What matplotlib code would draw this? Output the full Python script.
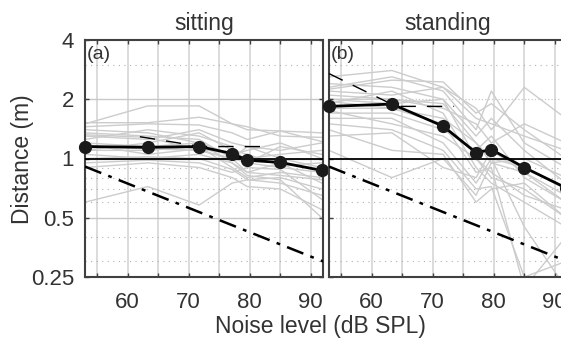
import matplotlib
matplotlib.use("Agg")
import matplotlib.pyplot as plt
import numpy as np
from matplotlib.ticker import FixedLocator, NullFormatter

plt.rcParams['font.family'] = ['Liberation Sans', 'DejaVu Sans']

# noise levels (dB SPL)
levels = [53, 63.3, 71.7, 77.1, 79.6, 85, 91.8]

# individual subjects, sitting
sitting_subjects = [
    [1.50, 1.85, 1.85, 1.50, 1.40, 1.38, 1.35],
    [1.52, 1.52, 1.62, 1.50, 1.45, 1.30, 1.28],
    [1.45, 1.50, 1.48, 1.35, 1.25, 1.38, 1.22],
    [1.30, 1.25, 1.40, 1.20, 1.15, 1.10, 1.20],
    [1.20, 1.15, 1.20, 1.05, 1.00, 1.05, 1.10],
    [1.15, 1.12, 1.10, 1.00, 0.95, 0.90, 0.85],
    [1.10, 1.10, 1.15, 0.90, 0.80, 0.85, 0.80],
    [1.05, 1.00, 1.05, 0.95, 0.85, 0.95, 0.75],
    [1.00, 1.02, 1.00, 0.88, 0.78, 0.80, 0.70],
    [0.95, 0.98, 0.95, 0.85, 0.90, 0.88, 0.62],
    [0.60, 0.72, 0.58, 0.75, 0.78, 0.75, 0.65],
    [1.35, 1.30, 1.25, 1.00, 1.15, 1.00, 0.90],
    [1.25, 1.40, 1.30, 1.15, 0.95, 1.15, 1.05],
    [1.40, 1.35, 1.20, 0.95, 0.82, 0.78, 0.50],
    [1.10, 1.20, 1.35, 1.10, 1.05, 0.92, 0.95],
    [0.90, 0.95, 0.90, 0.80, 0.72, 0.70, 0.55],
    [1.32, 1.28, 1.10, 1.00, 0.85, 0.82, 0.78],
    [1.18, 1.05, 1.12, 1.05, 1.10, 1.20, 1.00],
]

# individual subjects, standing
standing_subjects = [
    [2.60, 2.80, 2.30, 1.60, 1.50, 1.30, 1.10],
    [2.30, 2.60, 2.20, 1.40, 2.20, 1.20, 0.90],
    [2.20, 2.10, 2.30, 1.80, 1.40, 2.30, 1.60],
    [2.10, 2.00, 1.90, 1.20, 1.00, 0.90, 0.70],
    [2.00, 1.90, 2.00, 1.00, 0.80, 0.70, 0.50],
    [1.90, 2.20, 1.70, 0.90, 0.75, 0.60, 0.45],
    [1.80, 1.80, 1.50, 0.85, 0.90, 0.22, 0.40],
    [1.70, 1.70, 1.40, 1.10, 1.30, 0.80, 0.60],
    [1.60, 1.60, 1.20, 0.75, 1.00, 0.45, 0.22],
    [1.50, 1.40, 1.10, 0.70, 0.72, 0.25, 0.30],
    [1.30, 1.35, 0.90, 0.80, 1.10, 0.85, 0.60],
    [1.10, 0.80, 1.00, 0.65, 0.95, 1.00, 0.80],
    [2.40, 2.30, 2.00, 1.30, 1.60, 1.10, 0.75],
    [1.75, 1.50, 1.30, 1.00, 0.85, 0.65, 0.55],
    [2.00, 2.00, 1.80, 1.50, 1.20, 1.50, 1.20],
    [1.40, 1.10, 1.05, 0.60, 0.70, 0.75, 0.50],
    [2.25, 2.50, 2.45, 1.70, 1.90, 1.40, 1.00],
    [1.95, 1.80, 1.60, 1.20, 0.95, 0.85, 0.65],
]

sitting_mean = [1.15, 1.14, 1.15, 1.06, 0.98, 0.955, 0.87]
standing_mean = [1.84, 1.89, 1.46, 1.07, 1.11, 0.90, 0.71]

# dashed fit lines
sitting_fit_x = [62, 72, 82]
sitting_fit_y = [1.29, 1.15, 1.15]
standing_fit_x = [53, 64, 73.5]
standing_fit_y = [2.70, 1.84, 1.84]

# dash-dot reference line
ref_x = [53, 92]
ref_y = [0.91, 0.30]

yticks = [0.25, 0.5, 1, 2, 4]
ytick_labels = ['0.25', '0.5', '1', '2', '4']
yminor = [0.3, 0.4, 0.6, 0.7, 0.8, 0.9, 3]
xticks = [60, 70, 80, 90]
xminor = [55, 65, 75, 85]

grey = '#cccccc'
frame = '#404040'
txt = '#333333'

fig = plt.figure(figsize=(5.61, 3.47), dpi=100)
ax1 = fig.add_axes([85 / 561, 70 / 347, 238 / 561, 237 / 347])
ax2 = fig.add_axes([329 / 561, 70 / 347, 238 / 561, 237 / 347])

panels = [
    (ax1, sitting_subjects, sitting_mean, sitting_fit_x, sitting_fit_y, 'sitting', '(a)', '-'),
    (ax2, standing_subjects, standing_mean, standing_fit_x, standing_fit_y, 'standing', '(b)', ':'),
]

for ax, subj, mean, fx, fy, title, tag, hgrid in panels:
    ax.set_yscale('log')
    ax.set_xlim(53, 92)
    ax.set_ylim(0.25, 4)

    # grid
    for x in xticks + xminor:
        ax.axvline(x, color='#d9d9d9', lw=1.3, zorder=0)
    for y in [0.5, 1, 2]:
        ax.axhline(y, color='#c8c8c8', lw=1.0 if hgrid == '-' else 0.9,
                   ls=hgrid, zorder=0)
    for y in yminor:
        ax.axhline(y, color='#b0b0b0', lw=0.8, ls=(0, (1, 4)), zorder=0)

    for s in subj:
        ax.plot(levels, s, color=grey, lw=1.0, zorder=1)

    ax.axhline(1, color='black', lw=1.3, zorder=3)
    ax.plot(fx, fy, color='black', lw=1.0, dashes=(11, 8), zorder=3)
    ax.plot(ref_x, ref_y, color='black', lw=1.8, dashes=(7, 3, 1.5, 3), zorder=3)
    ax.plot(levels, mean, color='black', lw=2.0, marker='o', ms=8.5,
            markerfacecolor='#1a1a1a', markeredgecolor='#1a1a1a',
            zorder=5, clip_on=False)

    ax.set_title(title, fontsize=16.5, color=txt, pad=7)
    ax.text(0.006, 0.975, tag, transform=ax.transAxes, fontsize=14,
            color=txt, va='top', ha='left')

    ax.xaxis.set_major_locator(FixedLocator(xticks))
    ax.xaxis.set_minor_locator(FixedLocator(xminor))
    ax.yaxis.set_major_locator(FixedLocator(yticks))
    ax.yaxis.set_minor_locator(FixedLocator([]))
    ax.yaxis.set_minor_formatter(NullFormatter())
    ax.tick_params(which='both', direction='in', length=3, width=1,
                   colors=frame, top=True, right=True,
                   labelsize=16, labelcolor=txt)
    ax.tick_params(axis='x', pad=11)
    ax.tick_params(axis='y', pad=8)
    for sp in ax.spines.values():
        sp.set_color(frame)
        sp.set_linewidth(1.5)

ax1.set_yticklabels(ytick_labels)
ax2.set_yticklabels([])

fig.text(320 / 561, 1 - 326 / 347, 'Noise level (dB SPL)', fontsize=16.5,
         color=txt, ha='center', va='center')
fig.text(22 / 561, 1 - 159 / 347, 'Distance (m)', fontsize=16.5,
         color=txt, ha='center', va='center', rotation=90)

fig.savefig('out.png', dpi=100)
